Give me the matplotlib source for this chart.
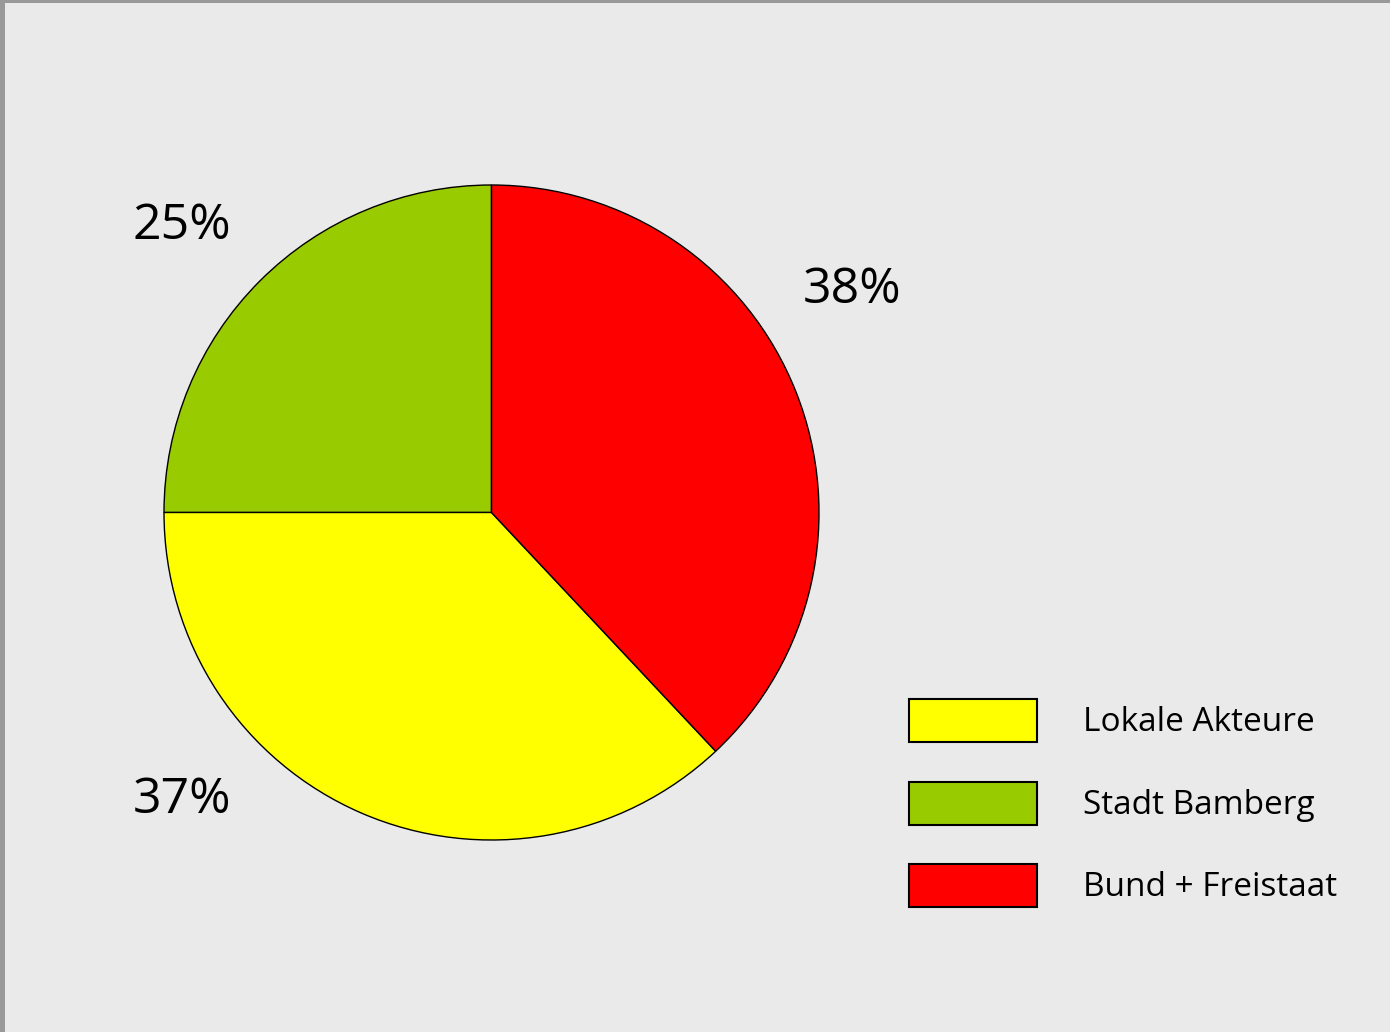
import matplotlib
matplotlib.use("Agg")
import matplotlib.pyplot as plt
from matplotlib.patches import Patch, Rectangle

plt.rcParams['font.family'] = ['Open Sans', 'DejaVu Sans']

# data
categories = ['Lokale Akteure', 'Stadt Bamberg', 'Bund + Freistaat']
shares = [37, 25, 38]
colors = ['#FFFF00', '#99CC00', '#FF0000']
pct_labels = ['37%', '25%', '38%']

# pie order: counter-clockwise from 12 o'clock
pie_order = [1, 0, 2]
# label positions in data units (radius = 1)
label_pos = [(-0.945, -0.879), (-0.945, 0.874), (1.10, 0.68)]

W, H = 1390, 1032
fig = plt.figure(figsize=(W / 100, H / 100), dpi=100, facecolor='#EAEAEA')

# grey frame on top and left
fig.patches.append(Rectangle((0, 0), 5 / W, 1, transform=fig.transFigure,
                             facecolor='#999999', edgecolor='none'))
fig.patches.append(Rectangle((0, 1 - 3 / H), 1, 3 / H, transform=fig.transFigure,
                             facecolor='#999999', edgecolor='none'))

cx, cy, r = 491.5, H - 512.5, 327.5
ax = fig.add_axes([(cx - r) / W, (cy - r) / H, 2 * r / W, 2 * r / H])
ax.set_facecolor('none')
ax.pie([shares[i] for i in pie_order],
       colors=[colors[i] for i in pie_order],
       startangle=90, counterclock=True, radius=1,
       wedgeprops=dict(edgecolor='black', linewidth=1))
ax.set_xlim(-1, 1)
ax.set_ylim(-1, 1)
ax.set_aspect('equal')
ax.axis('off')

for txt, (x, y) in zip(pct_labels, label_pos):
    ax.text(x, y, txt, fontsize=36, ha='center', va='center', color='black')

handles = [Patch(facecolor=c, edgecolor='black', linewidth=1.5) for c in colors]
fs = 24
fpx = fs * 100 / 72
hh = (43 / fpx - 0.245) / 0.65
fig.legend(handles, categories, loc='upper left',
           bbox_to_anchor=(909 / W, 1 - 699 / H), frameon=False, fontsize=fs,
           borderpad=0, borderaxespad=0,
           handlelength=128 / fpx, handleheight=hh,
           handletextpad=46 / fpx, labelspacing=39.5 / fpx)

fig.savefig('out.png', dpi=100, facecolor=fig.get_facecolor())
